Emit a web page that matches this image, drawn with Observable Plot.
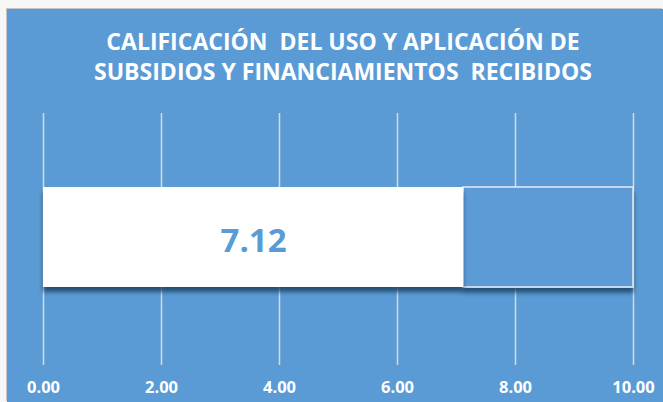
<!DOCTYPE html>
<html>
<head>
<meta charset="utf-8">
<script src="https://cdn.jsdelivr.net/npm/d3@7"></script>
<script src="https://cdn.jsdelivr.net/npm/@observablehq/plot@0.6"></script>
<style>
  html, body { margin: 0; padding: 0; background: #f7f7f7; width: 663px; height: 402px; overflow: hidden; }
  #chart {
    position: absolute; left: 7px; top: 9px; width: 656px; height: 393px;
    background: #5B9BD5; box-shadow: -1px -1px 0 #c4c4c4;
  }
  #title {
    height: 104px; box-sizing: border-box; padding-top: 17px;
    color: #ffffff; font-family: "Open Sans", sans-serif; font-weight: 700;
    font-size: 23px; line-height: 30px; text-align: center; white-space: pre;
    padding-left: 16px;
  }
  svg { display: block; }
</style>
</head>
<body>
<div id="chart">
  <div id="title">CALIFICACIÓN  DEL USO Y APLICACIÓN DE
SUBSIDIOS Y FINANCIAMIENTOS  RECIBIDOS</div>
</div>
<script>
const categories = ["Calificación"];
const values = [7.12];
const maxScore = [10];
const tickValues = [0, 2, 4, 6, 8, 10];

const data = categories.map((c, i) => ({category: c, value: values[i], max: maxScore[i]}));
const fmt = d => d.toFixed(2);

const plot = Plot.plot({
  width: 656,
  height: 289,
  marginLeft: 36,
  marginRight: 30,
  marginTop: 0,
  marginBottom: 37,
  style: {background: "transparent", color: "white", fontFamily: "Open Sans, sans-serif", overflow: "visible"},
  x: {domain: [0, 10], axis: null},
  y: {domain: categories, padding: 0, axis: null},
  marks: [
    Plot.ruleX(tickValues, {stroke: "#d9d9d9", strokeWidth: 1.5}),
    Plot.barX(data, {x1: "value", x2: "max", y: "category", fill: "#5B9BD5", stroke: "#e4ecf5", strokeWidth: 1.5, insetTop: 74, insetBottom: 78}),
    Plot.barX(data, {x1: 0, x2: "value", y: "category", fill: "#ffffff", insetTop: 74, insetBottom: 78}),
    Plot.text(data, {x: d => d.value / 2, y: "category", text: d => fmt(d.value), fill: "#5B9BD5", fontSize: 33, fontWeight: 700, dy: 2}),
    Plot.axisX({ticks: tickValues, tickSize: 0, tickPadding: 16, tickFormat: fmt, fill: "white", fontSize: 16.5, fontWeight: 700, anchor: "bottom"})
  ]
});

// drop shadow under the bars
const svg = d3.select(plot);
const defs = svg.insert("defs", ":first-child");
const f = defs.append("filter").attr("id", "barShadow").attr("x", "-5%").attr("y", "-20%").attr("width", "110%").attr("height", "160%");
f.append("feDropShadow").attr("dx", 0).attr("dy", 5).attr("stdDeviation", 2.2)
  .attr("flood-color", "#1a3a5c").attr("flood-opacity", 0.8);
svg.selectAll('g[aria-label="bar"]').attr("filter", "url(#barShadow)");

document.getElementById("chart").appendChild(plot);
</script>
</body>
</html>
